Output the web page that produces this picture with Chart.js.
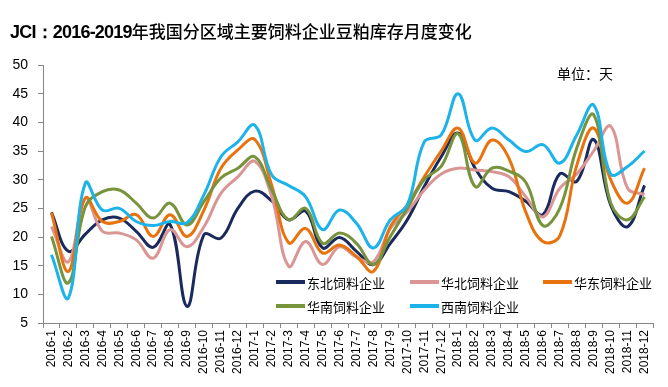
<!DOCTYPE html>
<html>
<head>
<meta charset="utf-8">
<title>JCI 豆粕库存月度变化</title>
<script src="https://cdn.jsdelivr.net/npm/chart.js"></script>
<style>
    body { margin: 0; background: #fff; }
    .wrap { position: relative; width: 668px; height: 387px; overflow: hidden; background: #fff; }
    #chart { position: absolute; left: 0; top: 0; }
    .title { position: absolute; left: 10px; top: 19px; white-space: nowrap; color: #000; line-height: 24px; }
    .title .en { font-family: 'Liberation Sans', Arial, sans-serif; font-weight: bold; font-size: 18px; letter-spacing: -0.8px; }
    .title .cn { font-family: 'Noto Sans CJK SC', sans-serif; font-weight: 500; font-size: 17px; }
    .unit { position: absolute; left: 557px; top: 63px; font: 14px 'Noto Sans CJK SC', sans-serif; color: #000; }
    .legend { position: absolute; left: 276px; top: 272px; display: grid; grid-template-columns: 134px 133px 110px; row-gap: 4px; }
    .item { display: flex; align-items: center; height: 20px; font: 13px 'Noto Sans CJK SC', sans-serif; color: #000; white-space: nowrap; }
    .item i { display: inline-block; width: 29px; height: 4px; margin-right: 2px; }
</style>
</head>
<body>
<div class="wrap">
    <canvas id="chart" width="668" height="387"></canvas>
    <div class="title"><span class="en">JCI：2016-2019</span><span class="cn">年我国分区域主要饲料企业豆粕库存月度变化</span></div>
    <div class="unit">单位：天</div>
    <div class="legend" id="legend"></div>
</div>
<script>
// month labels on the x axis
const months = ['2016-1', '2016-2', '2016-3', '2016-4', '2016-5', '2016-6', '2016-7', '2016-8', '2016-9', '2016-10', '2016-11', '2016-12',
    '2017-1', '2017-2', '2017-3', '2017-4', '2017-5', '2017-6', '2017-7', '2017-8', '2017-9', '2017-10', '2017-11', '2017-12',
    '2018-1', '2018-2', '2018-3', '2018-4', '2018-5', '2018-6', '2018-7', '2018-8', '2018-9', '2018-10', '2018-11', '2018-12'];

const seriesNames = ['东北饲料企业', '华北饲料企业', '华东饲料企业', '华南饲料企业', '西南饲料企业'];
const seriesColors = ['#1b2a5c', '#d99694', '#e8730e', '#77933c', '#1cb2ea'];

// stock days
const northeast = [24.3, 17.5, 20.5, 23, 23.3, 21, 18.2, 22.2, 7.9, 20.4, 19.8, 25, 28, 26.3, 23, 24.5, 18.1, 19.9, 17.5, 15.2, 18.9, 23, 28.8, 34,
    38.1, 32, 28.5, 27.9, 26.2, 23.9, 31, 29.7, 37, 25.6, 21.8, 29];
const north = [21.8, 15.7, 26.8, 21, 20.7, 19.5, 16.3, 21.3, 18.3, 21.8, 27.6, 30.5, 33.2, 27, 14.9, 19.2, 15.2, 18.3, 16.5, 15.7, 21.5, 24.4, 28.2, 31,
    32, 31.7, 31.4, 30.5, 27, 23.5, 28.5, 31, 35, 39.3, 28.5, 27.4];
const east = [24.2, 14, 26.8, 22.7, 22.7, 23.9, 20.1, 23.9, 20.1, 24.7, 32, 35.2, 37, 29, 19, 21.5, 17.2, 18.6, 16.6, 14, 21.8, 25.6, 30.5, 35,
    39, 32.9, 36.9, 33.7, 24.3, 19.2, 20.2, 32.5, 39, 30, 25.9, 32];
const south = [20.1, 12, 25.3, 27.9, 28.2, 25.9, 23.3, 25.9, 22.1, 26.2, 30.3, 32, 34, 28.2, 23, 25, 18.9, 20.7, 18.9, 15.2, 20.1, 25, 30, 32.3,
    38, 28.8, 32, 31.5, 29.5, 22, 25, 35.5, 41.3, 26, 23, 27];
const southwest = [16.9, 9.4, 29.4, 24.7, 25, 22.7, 22, 22.7, 22.5, 27.4, 34, 36.6, 39.5, 30.8, 29, 27, 21.3, 24.7, 22.4, 18.1, 23, 25.6, 36.6, 37.8,
    45, 36.9, 39, 36.9, 34.9, 36.1, 32.9, 37.8, 43, 31, 32.3, 35];

const yTicks = { min: 5, max: 50, step: 5 };

const allSeries = [northeast, north, east, south, southwest];

// legend (drawn as html, it sits inside the plot area)
const legendEl = document.getElementById('legend');
seriesNames.forEach((name, i) => {
    const d = document.createElement('div');
    d.className = 'item';
    d.innerHTML = '<i style="background:' + seriesColors[i] + '"></i>' + name;
    legendEl.appendChild(d);
});

const axisColor = '#868686';

new Chart(document.getElementById('chart'), {
    type: 'line',
    data: {
        labels: months,
        datasets: allSeries.map((data, i) => ({
            label: seriesNames[i],
            data: data,
            borderColor: seriesColors[i],
            backgroundColor: seriesColors[i],
            borderWidth: 3,
            pointRadius: 0,
            tension: 0.4,
            fill: false,
            order: allSeries.length - i
        }))
    },
    options: {
        responsive: false,
        animation: false,
        devicePixelRatio: 1,
        layout: { padding: { top: 65, right: 15, left: 0, bottom: 0 } },
        plugins: { legend: { display: false }, tooltip: { enabled: false } },
        scales: {
            x: {
                offset: true,
                afterFit: s => { s.height = 64; },
                grid: { offset: true, drawOnChartArea: false, drawTicks: true, tickLength: 5, color: axisColor },
                border: { display: true, color: axisColor, width: 1 },
                ticks: { autoSkip: false, minRotation: 90, maxRotation: 90, padding: 2, color: '#000',
                    font: { family: "'Liberation Sans', Arial, sans-serif", size: 12 } }
            },
            y: {
                min: yTicks.min,
                max: yTicks.max,
                afterFit: s => { s.width = 43; },
                grid: { drawOnChartArea: false, drawTicks: true, tickLength: 5, color: axisColor },
                border: { display: true, color: axisColor, width: 1 },
                ticks: { stepSize: yTicks.step, padding: 10, color: '#000',
                    font: { family: "'Liberation Sans', Arial, sans-serif", size: 14 } }
            }
        }
    }
});
</script>
</body>
</html>
